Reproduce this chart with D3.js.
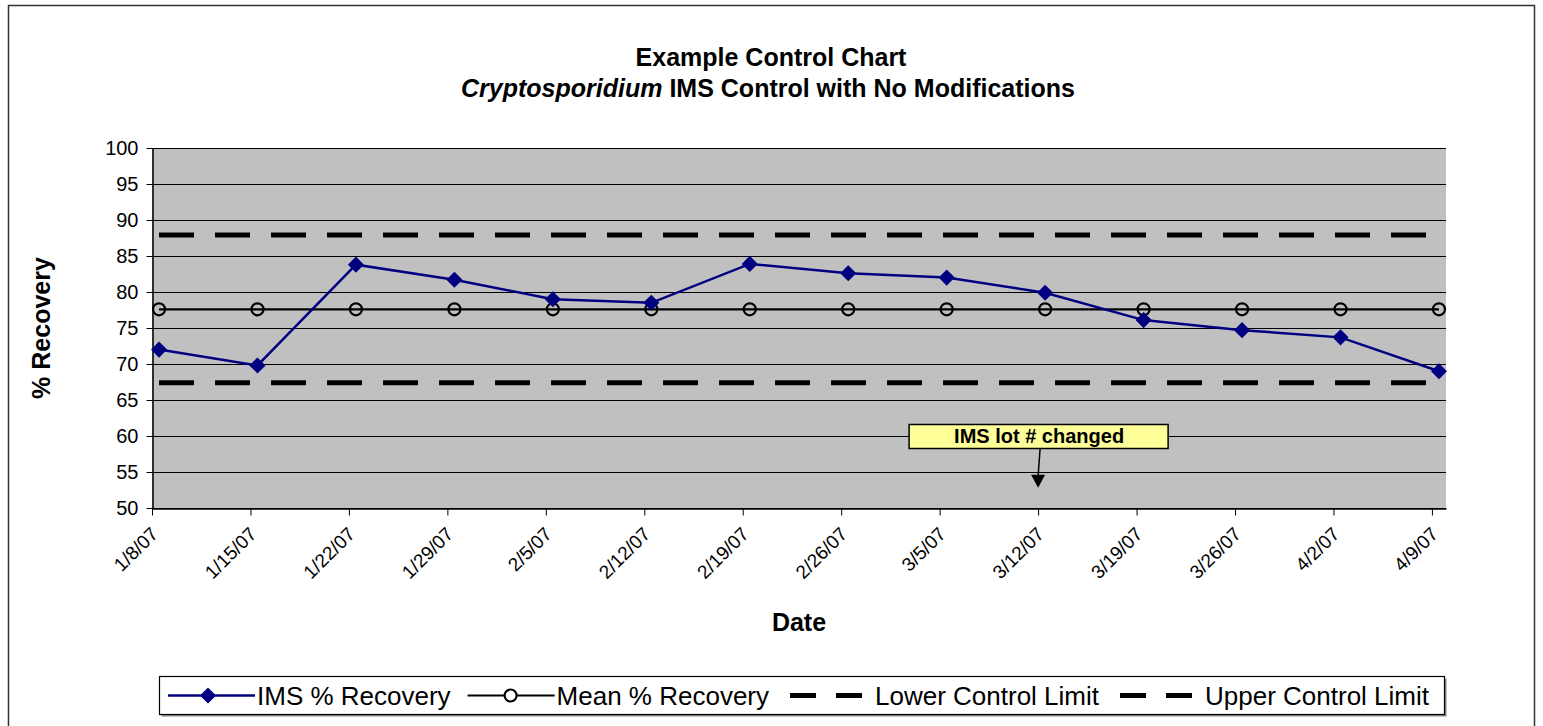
<!DOCTYPE html>
<html>
<head>
<meta charset="utf-8">
<script src="https://cdn.jsdelivr.net/npm/d3@7"></script>
<style>
  body { margin: 0; background: #fff; }
  svg { display: block; font-family: "Liberation Sans", Arial, sans-serif; }
</style>
</head>
<body>
<svg id="chart" width="1543" height="726"></svg>
<script>
// --- data ---
const dateLabels = ['1/8/07', '1/15/07', '1/22/07', '1/29/07', '2/5/07', '2/12/07', '2/19/07',
  '2/26/07', '3/5/07', '3/12/07', '3/19/07', '3/26/07', '4/2/07', '4/9/07'];
const imsRecovery = [72.0, 69.8, 83.8, 81.7, 79.0, 78.5, 83.9, 82.6, 82.0, 79.9, 76.1, 74.7, 73.7, 69.0];
const meanRecovery = [77.6, 77.6, 77.6, 77.6, 77.6, 77.6, 77.6, 77.6, 77.6, 77.6, 77.6, 77.6, 77.6, 77.6];
const lowerLimit = 67.4;
const upperLimit = 87.9;
const yTickValues = [50, 55, 60, 65, 70, 75, 80, 85, 90, 95, 100];
const legendLabels = ['IMS % Recovery', 'Mean % Recovery', 'Lower Control Limit', 'Upper Control Limit'];
const note = { date: '3/12/07', text: 'IMS lot # changed', boxValue: 60, arrowValue: 52.8 };

const margin = { left: 152, top: 148, right: 1446, bottom: 508 };
const parseDate = d3.utcParse('%m/%d/%y');
const dates = dateLabels.map(parseDate);
const mid = d => d3.utcHour.offset(d, 12);   // Excel date axis puts points in the middle of the day

const svg = d3.select('#chart');

// outer chart border
svg.append('rect')
  .attr('x', 8.5).attr('y', 5.5)
  .attr('width', 1526).attr('height', 740)
  .attr('fill', '#fff').attr('stroke', '#333').attr('stroke-width', 1.5);

const x = d3.scaleUtc()
  .domain([dates[0], d3.utcDay.offset(dates[dates.length - 1], 1)])
  .range([margin.left, margin.right]);
const y = d3.scaleLinear().domain([50, 100]).range([margin.bottom, margin.top]);

// plot area
svg.append('rect')
  .attr('x', margin.left).attr('y', margin.top)
  .attr('width', margin.right - margin.left).attr('height', margin.bottom - margin.top)
  .attr('fill', '#c0c0c0');

// gridlines
svg.append('g').selectAll('line')
  .data(yTickValues)
  .join('line')
  .attr('x1', margin.left).attr('x2', margin.right)
  .attr('y1', d => y(d) + 0.5).attr('y2', d => y(d) + 0.5)
  .attr('stroke', '#000').attr('stroke-width', 1);

// y axis
const yAxisG = svg.append('g')
  .attr('transform', `translate(${margin.left + 0.5},0)`)
  .call(d3.axisLeft(y).tickValues(yTickValues).tickSize(6).tickPadding(8).tickSizeOuter(0));
yAxisG.select('.domain').attr('stroke', '#000').attr('stroke-width', 1.5);
yAxisG.selectAll('text').style('font-size', '20px').attr('fill', '#000')
  .style('font-family', '"Liberation Sans", Arial, sans-serif');

// x axis
const xAxisG = svg.append('g')
  .attr('transform', `translate(0,${margin.bottom + 0.5})`)
  .call(d3.axisBottom(x).tickValues(dates).tickSize(7).tickSizeOuter(0)
    .tickFormat((d, i) => dateLabels[i]));
xAxisG.select('.domain').attr('stroke', '#000').attr('stroke-width', 1.5);
xAxisG.selectAll('text')
  .style('font-size', '19px').attr('fill', '#000')
  .style('font-family', '"Liberation Sans", Arial, sans-serif')
  .attr('x', 0).attr('y', 0).attr('dy', '0.35em')
  .attr('text-anchor', 'end')
  .attr('transform', 'translate(2,22) rotate(-45)');

// control limits
const xFirst = x(mid(dates[0]));
const xLast = x(mid(dates[dates.length - 1]));
svg.append('g').selectAll('line')
  .data([lowerLimit, upperLimit])
  .join('line')
  .attr('x1', xFirst).attr('x2', xLast)
  .attr('y1', d => y(d)).attr('y2', d => y(d))
  .attr('stroke', '#000').attr('stroke-width', 5)
  .attr('stroke-dasharray', '35,21');

// mean line with open circles
const meanData = dates.map((d, i) => ({ date: d, value: meanRecovery[i] }));
const line = d3.line().x(d => x(mid(d.date))).y(d => y(d.value));
svg.append('path')
  .datum(meanData)
  .attr('d', line)
  .attr('fill', 'none').attr('stroke', '#000').attr('stroke-width', 2.2);
svg.append('g').selectAll('circle')
  .data(meanData)
  .join('circle')
  .attr('cx', d => x(mid(d.date))).attr('cy', d => y(d.value))
  .attr('r', 6)
  .attr('fill', 'none').attr('stroke', '#000').attr('stroke-width', 2.2);

// IMS recovery series
const imsData = dates.map((d, i) => ({ date: d, value: imsRecovery[i] }));
svg.append('path')
  .datum(imsData)
  .attr('d', line)
  .attr('fill', 'none').attr('stroke', '#000080').attr('stroke-width', 2.5);
const diamond = d3.symbol().type(d3.symbolSquare).size(130);
svg.append('g').selectAll('path')
  .data(imsData)
  .join('path')
  .attr('d', diamond)
  .attr('transform', d => `translate(${x(mid(d.date))},${y(d.value)}) rotate(45)`)
  .attr('fill', '#000080');

// annotation
const noteX = x(parseDate(note.date));
const noteG = svg.append('g');
noteG.append('rect')
  .attr('x', noteX - 129).attr('y', y(note.boxValue) - 11.5)
  .attr('width', 259).attr('height', 24)
  .attr('fill', '#ffff99').attr('stroke', '#000').attr('stroke-width', 1.5);
noteG.append('text')
  .attr('x', noteX + 1).attr('y', y(note.boxValue) + 7)
  .attr('text-anchor', 'middle')
  .style('font-size', '20px').style('font-weight', 'bold')
  .text(note.text);
noteG.append('line')
  .attr('x1', noteX + 2).attr('y1', y(note.boxValue) + 12.5)
  .attr('x2', noteX).attr('y2', y(note.arrowValue) - 12)
  .attr('stroke', '#000').attr('stroke-width', 1.5);
const tipY = y(note.arrowValue);
noteG.append('path')
  .attr('d', `M${noteX - 7},${tipY - 13} L${noteX + 7},${tipY - 13} L${noteX},${tipY} Z`)
  .attr('fill', '#000');

// titles
svg.append('text')
  .attr('x', 771).attr('y', 66)
  .attr('text-anchor', 'middle')
  .style('font-size', '25px').style('font-weight', 'bold')
  .text('Example Control Chart');
const sub = svg.append('text')
  .attr('x', 768).attr('y', 97)
  .attr('text-anchor', 'middle')
  .style('font-size', '25px').style('font-weight', 'bold');
sub.append('tspan').style('font-style', 'italic').text('Cryptosporidium');
sub.append('tspan').text(' IMS Control with No Modifications');

svg.append('text')
  .attr('x', (margin.left + margin.right) / 2).attr('y', 631)
  .attr('text-anchor', 'middle')
  .style('font-size', '25px').style('font-weight', 'bold')
  .text('Date');

svg.append('text')
  .attr('transform', `translate(50,${(margin.top + margin.bottom) / 2}) rotate(-90)`)
  .attr('text-anchor', 'middle')
  .style('font-size', '25px').style('font-weight', 'bold')
  .text('% Recovery');

// legend
const legendBox = { x: 159.5, y: 676.5, w: 1285, h: 38 };
svg.append('rect')
  .attr('x', legendBox.x + 2).attr('y', legendBox.y + 2)
  .attr('width', legendBox.w).attr('height', legendBox.h)
  .attr('fill', '#888');
svg.append('rect')
  .attr('x', legendBox.x).attr('y', legendBox.y)
  .attr('width', legendBox.w).attr('height', legendBox.h)
  .attr('fill', '#fff').attr('stroke', '#000').attr('stroke-width', 1.2);

const legend = svg.append('g');
const legendY = legendBox.y + legendBox.h / 2;
let lx = 168;
legendLabels.forEach((label, i) => {
  const g = legend.append('g').attr('transform', `translate(${lx},${legendY})`);
  if (i === 0) {
    g.append('line').attr('x1', 0).attr('x2', 87).attr('stroke', '#000080').attr('stroke-width', 2.5);
    g.append('path').attr('d', diamond).attr('transform', 'translate(40,0) rotate(45)').attr('fill', '#000080');
  } else if (i === 1) {
    g.append('line').attr('x1', 0).attr('x2', 87).attr('stroke', '#000').attr('stroke-width', 2.2);
    g.append('circle').attr('cx', 43).attr('r', 6).attr('fill', '#fff').attr('stroke', '#000').attr('stroke-width', 2.2);
  } else {
    g.append('line').attr('x1', 4).attr('x2', 84).attr('stroke', '#000').attr('stroke-width', 5)
      .attr('stroke-dasharray', '26,20');
  }
  const t = g.append('text')
    .attr('x', 89).attr('y', 9)
    .style('font-size', '26px')
    .text(label);
  lx += 89 + t.node().getComputedTextLength() + 17;
});
</script>
</body>
</html>
